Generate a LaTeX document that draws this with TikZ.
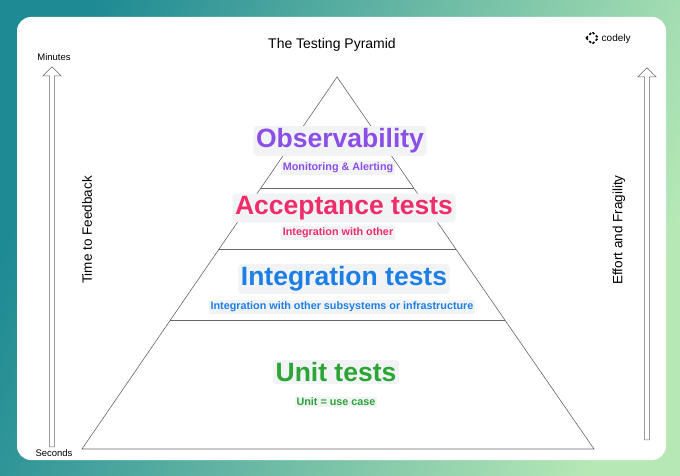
\documentclass[tikz,border=0pt]{standalone}
\usepackage{fontspec}
\setmainfont{Liberation Sans}
\usetikzlibrary{positioning, shapes.arrows}
\definecolor{obscol}{HTML}{8B4FE8}
\definecolor{acccol}{HTML}{EE2E6B}
\definecolor{intcol}{HTML}{1C7FE6}
\definecolor{unitcol}{HTML}{2BA536}
\definecolor{tagbg}{HTML}{F2F3F5}
\definecolor{bgleft}{HTML}{1E8A94}
\definecolor{bgright}{HTML}{B5E8B5}
\tikzstyle{layer} = [rounded corners=3pt, fill=tagbg, inner sep=2.5pt, font=\fontsize{26.5}{26.5}\selectfont\bfseries]
\tikzstyle{sub} = [fill=tagbg, inner sep=1.5pt, font=\fontsize{10.8}{10.8}\selectfont\bfseries]
\tikzstyle{side} = [font=\fontsize{13.5}{13.5}\selectfont, rotate=90]
\tikzstyle{small} = [font=\fontsize{9.5}{9.5}\selectfont]
\tikzstyle{bigarrow} = [single arrow, draw=black!60, fill=white, line width=0.5pt, rotate=90,
  minimum width=18pt, single arrow head extend=5pt, single arrow head indent=0pt, inner sep=1.5pt]
\begin{document}
\begin{tikzpicture}[x=1pt, y=-1pt]
  \useasboundingbox (0,0) rectangle (680,476);
  \shade[left color=bgleft, right color=bgright, shading angle=70] (0,0) rectangle (680,476);
  \fill[white] (17,17) [rounded corners=14pt] -- (666,17) -- (666,460) -- (17,460) -- cycle;

  % pyramid
  \coordinate (apex) at (337,77);
  \coordinate (bl) at (82,449);
  \coordinate (br) at (594,449);
  \draw[black!60, line width=0.6pt] (apex) -- (bl) -- (br) -- cycle;
  \foreach \y in {188,249,320} {
    \draw[black!60, line width=0.6pt] ({337-(\y-77)/372*255},\y) -- ({337+(\y-77)/372*257},\y);
  }

  \node (title) at (332,45) {\fontsize{14}{14}\selectfont The Testing Pyramid};
  \node (logo) at (608,38) [font=\fontsize{10}{10}\selectfont] {\tikz[baseline=-3.5pt]\draw[dash pattern=on 2.5pt off 2pt, line width=1.6pt] (0,0) -- (6pt,6pt) -- (12pt,0) -- (6pt,-6pt) -- cycle;\ codely};

  \node (obs) [layer, text=obscol] at (340,141) {Observability};
  \node (obssub) [sub, text=obscol] at (338,168) {Monitoring \& Alerting};
  \node (acc) [layer, text=acccol] at (344,208) {Acceptance tests};
  \node (accsub) [sub, text=acccol] at (338,233) {Integration with other};
  \node (int) [layer, text=intcol] at (344,279) {Integration tests};
  \node (intsub) [sub, text=intcol] at (342,307) {Integration with other subsystems or infrastructure};
  \node (unit) [layer, text=unitcol] at (336,372) {Unit tests};
  \node (unitsub) [sub, text=unitcol] at (336,402) {Unit = use case};

  % side arrows
  \node (timearr) [bigarrow, minimum height=380pt] at (52,258) {};
  \node (effarr) [bigarrow, minimum height=372pt] at (647,255) {};
  \node (minutes) [small] at (54,57) {Minutes};
  \node (seconds) [small] at (54,453) {Seconds};
  \node (time) [side] at (87,230) {Time to Feedback};
  \node (effort) [side] at (619,230) {Effort and Fragility};
\end{tikzpicture}
\end{document}
